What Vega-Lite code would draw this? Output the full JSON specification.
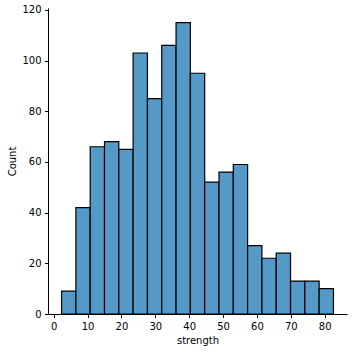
{
  "$schema": "https://vega.github.io/schema/vega-lite/v6.json",
  "width": 299,
  "height": 306,
  "autosize": {"type": "none"},
  "padding": {"left": 48, "top": 8, "right": 5, "bottom": 38},
  "background": "white",
  "config": {
    "view": {"stroke": null},
    "axis": {
      "labelFont": "DejaVu Sans",
      "titleFont": "DejaVu Sans",
      "labelFontSize": 10,
      "titleFontSize": 10,
      "titleFontWeight": "normal",
      "labelColor": "#000",
      "titleColor": "#000",
      "domainColor": "#000",
      "tickColor": "#000",
      "domainWidth": 1,
      "tickWidth": 1,
      "tickSize": 3.5,
      "labelPadding": 3.5,
      "grid": false
    }
  },
  "data": {
    "values": [
      {"start": 2.33, "end": 6.555, "count": 9},
      {"start": 6.555, "end": 10.78, "count": 42},
      {"start": 10.78, "end": 15.005, "count": 66},
      {"start": 15.005, "end": 19.23, "count": 68},
      {"start": 19.23, "end": 23.455, "count": 65},
      {"start": 23.455, "end": 27.68, "count": 103},
      {"start": 27.68, "end": 31.905, "count": 85},
      {"start": 31.905, "end": 36.13, "count": 106},
      {"start": 36.13, "end": 40.355, "count": 115},
      {"start": 40.355, "end": 44.58, "count": 95},
      {"start": 44.58, "end": 48.805, "count": 52},
      {"start": 48.805, "end": 53.03, "count": 56},
      {"start": 53.03, "end": 57.255, "count": 59},
      {"start": 57.255, "end": 61.48, "count": 27},
      {"start": 61.48, "end": 65.705, "count": 22},
      {"start": 65.705, "end": 69.93, "count": 24},
      {"start": 69.93, "end": 74.155, "count": 13},
      {"start": 74.155, "end": 78.38, "count": 13},
      {"start": 78.38, "end": 82.6, "count": 10}
    ]
  },
  "mark": {"type": "rect", "fill": "#5499c7", "stroke": "#000", "strokeWidth": 1.2},
  "encoding": {
    "x": {
      "field": "start", "type": "quantitative",
      "scale": {"domain": [-1.68, 86.6], "nice": false, "zero": false},
      "axis": {"values": [0, 10, 20, 30, 40, 50, 60, 70, 80], "title": "strength", "titlePadding": 4, "labelFlush": false}
    },
    "x2": {"field": "end"},
    "y": {
      "field": "count", "type": "quantitative",
      "scale": {"domain": [0, 120.75], "nice": false},
      "axis": {"values": [0, 20, 40, 60, 80, 100, 120], "title": "Count", "titlePadding": 4, "labelFlush": false}
    },
    "y2": {"datum": 0}
  }
}
